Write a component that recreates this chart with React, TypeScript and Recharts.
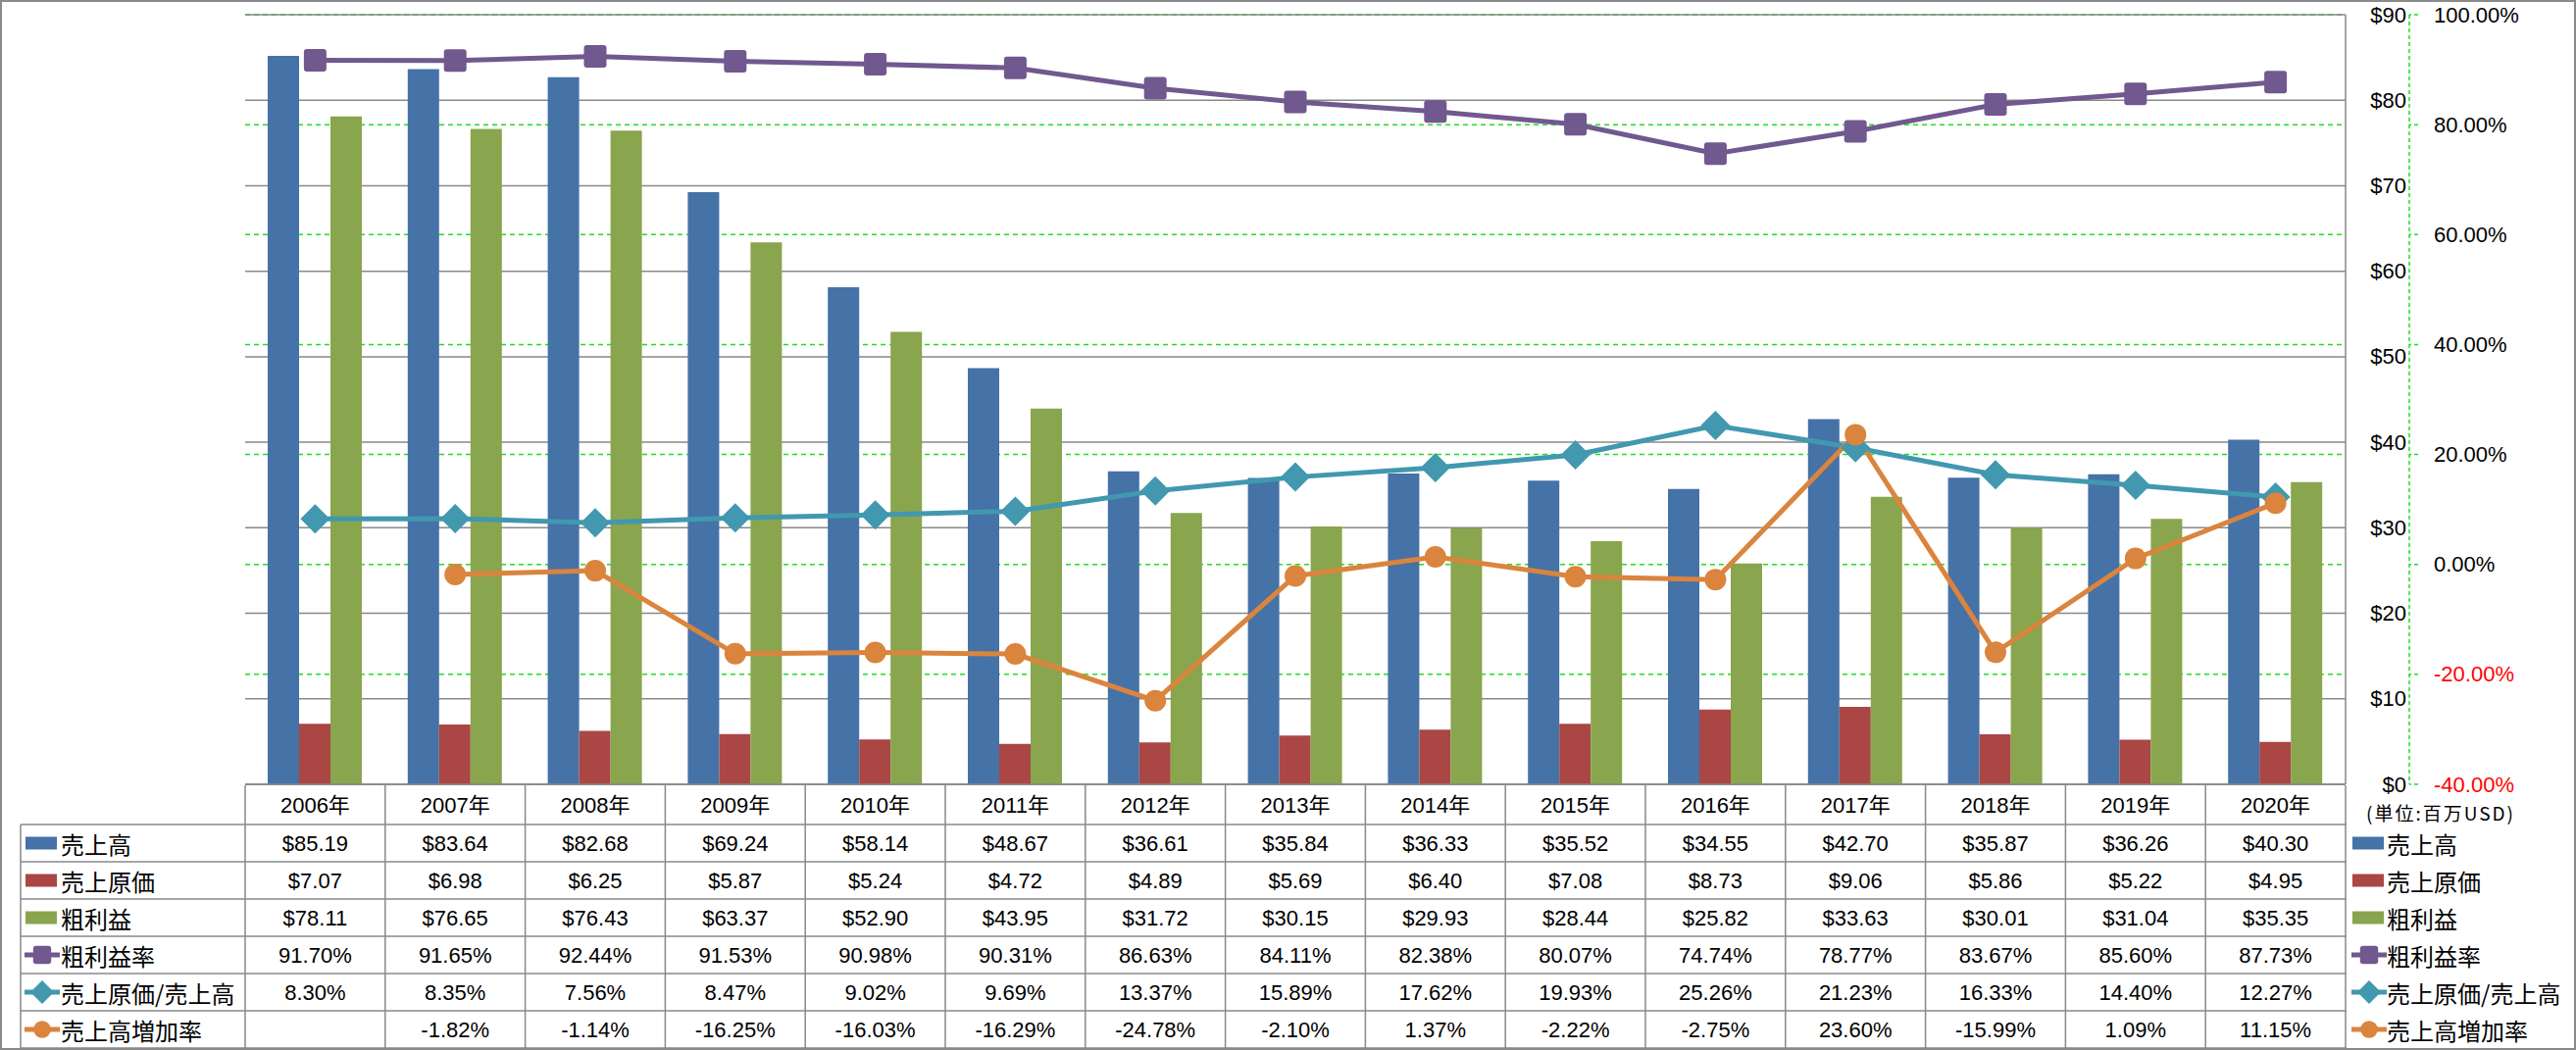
import React from 'react';
import { ComposedChart, Bar, Line, XAxis, YAxis, CartesianGrid } from 'recharts';

// ---------------- data ----------------
const years = ['2006年', '2007年', '2008年', '2009年', '2010年', '2011年', '2012年', '2013年', '2014年', '2015年', '2016年', '2017年', '2018年', '2019年', '2020年'];
const sales = [85.19, 83.64, 82.68, 69.24, 58.14, 48.67, 36.61, 35.84, 36.33, 35.52, 34.55, 42.7, 35.87, 36.26, 40.3];
const cogs = [7.07, 6.98, 6.25, 5.87, 5.24, 4.72, 4.89, 5.69, 6.4, 7.08, 8.73, 9.06, 5.86, 5.22, 4.95];
const grossProfit = [78.11, 76.65, 76.43, 63.37, 52.9, 43.95, 31.72, 30.15, 29.93, 28.44, 25.82, 33.63, 30.01, 31.04, 35.35];
const grossMargin = [91.7, 91.65, 92.44, 91.53, 90.98, 90.31, 86.63, 84.11, 82.38, 80.07, 74.74, 78.77, 83.67, 85.6, 87.73];
const cogsRatio = [8.3, 8.35, 7.56, 8.47, 9.02, 9.69, 13.37, 15.89, 17.62, 19.93, 25.26, 21.23, 16.33, 14.4, 12.27];
const salesGrowth: (number | null)[] = [null, -1.82, -1.14, -16.25, -16.03, -16.29, -24.78, -2.1, 1.37, -2.22, -2.75, 23.6, -15.99, 1.09, 11.15];

const usdTicks = [0, 10, 20, 30, 40, 50, 60, 70, 80, 90];
const pctTicks = [-40, -20, 0, 20, 40, 60, 80, 100];
const unitLabel = '(単位:百万USD)';

// ---------------- styles ----------------
const W = 2627;
const H = 1071;
const PLOT_LEFT = 250;
const PLOT_TOP = 15;
const USD_AXIS_W = 65;
const PCT_AXIS_W = 170;
const X_AXIS_H = 271;
const PLOT_W = W - PLOT_LEFT - USD_AXIS_W - PCT_AXIS_W;
const COL_W = PLOT_W / years.length;
const HEADER_H = 40;
const ROW_H = 38;
const TABLE_TOP = H - X_AXIS_H + 1;
const ROWS_TOP = TABLE_TOP + HEADER_H;
const TABLE_LEFT = 21;

const USD = 'a_usd';
const PCT = 'z_pct';

const BLUE = '#4572A7';
const RED = '#AA4643';
const GREEN = '#89A54E';
const PURPLE = '#71588F';
const TEAL = '#4198AF';
const ORANGE = '#DB843D';
const GRID = '#898989';
const DASH_GREEN = '#1ee01e';

const NUM_FONT = "'Liberation Sans', 'Noto Sans CJK JP', sans-serif";
const CJK_FONT = "'Noto Sans CJK JP', 'Noto Sans', sans-serif";

const fmtUsd = (v: number | null) => (v == null ? '' : `$${v.toFixed(2)}`);
const fmtPct = (v: number | null) => (v == null ? '' : `${v.toFixed(2)}%`);

type Kind = 'bar' | 'square' | 'diamond' | 'circle';
const rows: { label: string; values: (number | null)[]; fmt: (v: number | null) => string; kind: Kind; color: string }[] = [
  { label: '売上高', values: sales, fmt: fmtUsd, kind: 'bar', color: BLUE },
  { label: '売上原価', values: cogs, fmt: fmtUsd, kind: 'bar', color: RED },
  { label: '粗利益', values: grossProfit, fmt: fmtUsd, kind: 'bar', color: GREEN },
  { label: '粗利益率', values: grossMargin, fmt: fmtPct, kind: 'square', color: PURPLE },
  { label: '売上原価/売上高', values: cogsRatio, fmt: fmtPct, kind: 'diamond', color: TEAL },
  { label: '売上高増加率', values: salesGrowth, fmt: fmtPct, kind: 'circle', color: ORANGE },
];

const data = years.map((year, i) => ({
  year,
  sales: sales[i],
  cogs: cogs[i],
  grossProfit: grossProfit[i],
  grossMargin: grossMargin[i],
  cogsRatio: cogsRatio[i],
  salesGrowth: salesGrowth[i],
}));

// ---------------- markers ----------------
const Marker = ({ kind, cx, cy, color, s = 1 }: { kind: Kind; cx: number; cy: number; color: string; s?: number }) => {
  if (kind === 'square') {
    const h = 11.5 * s;
    return <rect x={cx - h} y={cy - h} width={2 * h} height={2 * h} rx={3} ry={3} fill={color} />;
  }
  if (kind === 'diamond') {
    const h = 15 * s;
    return <polygon points={`${cx},${cy - h} ${cx + h},${cy} ${cx},${cy + h} ${cx - h},${cy}`} fill={color} />;
  }
  if (kind === 'circle') {
    return <circle cx={cx} cy={cy} r={11 * s} fill={color} />;
  }
  return null;
};

const makeDot = (kind: Kind, color: string) => (p: any) => {
  if (p == null || p.cx == null || p.cy == null || p.value == null) return <g key={p?.key} />;
  return (
    <g key={p.key}>
      <Marker kind={kind} cx={p.cx} cy={p.cy} color={color} />
    </g>
  );
};

// ---------------- axis ticks ----------------
const UsdTick = (p: any) => (
  <text x={p.x + 62} y={p.y} textAnchor="end" dominantBaseline="central" fontFamily={NUM_FONT} fontSize={22} fill="#000">
    {`$${p.payload.value}`}
  </text>
);

const PctTick = (p: any) => {
  const v = p.payload.value as number;
  return (
    <text x={p.x} y={p.y} textAnchor="start" dominantBaseline="central" fontFamily={NUM_FONT} fontSize={22} fill={v < 0 ? '#ff0000' : '#000'}>
      {`${v.toFixed(2)}%`}
    </text>
  );
};

// Each x tick draws one column of the data table under the chart
const TableColumnTick = (p: any) => {
  const { x, y, index, payload } = p;
  const i = typeof index === 'number' ? index : payload.index;
  const top = y + 1;
  const left = x - COL_W / 2;
  const bottom = ROWS_TOP + rows.length * ROW_H;
  return (
    <g>
      <line x1={left} x2={left} y1={top} y2={bottom} stroke={GRID} strokeWidth={1.5} />
      {i === years.length - 1 && <line x1={left + COL_W} x2={left + COL_W} y1={top} y2={bottom} stroke={GRID} strokeWidth={1.5} />}
      <text x={x} y={top + HEADER_H / 2} textAnchor="middle" dominantBaseline="central" fontFamily={NUM_FONT} fontSize={22} fill="#000">
        {payload.value}
      </text>
      {rows.map((r, k) => (
        <text
          key={r.label}
          x={x}
          y={top + HEADER_H + ROW_H * k + ROW_H / 2}
          textAnchor="middle"
          dominantBaseline="central"
          fontFamily={NUM_FONT}
          fontSize={22}
          fill="#000"
        >
          {r.fmt(r.values[i])}
        </text>
      ))}
    </g>
  );
};

const LegendKey = ({ x, cy, kind, color }: { x: number; cy: number; kind: Kind; color: string }) => {
  if (kind === 'bar') return <rect x={x} y={cy - 6.5} width={32} height={13} fill={color} />;
  return (
    <g>
      <line x1={x - 1} x2={x + 35} y1={cy} y2={cy} stroke={color} strokeWidth={5} />
      <Marker kind={kind} cx={x + 17} cy={cy} color={color} s={0.8} />
    </g>
  );
};

const Overlay = () => {
  const tableRight = PLOT_LEFT + PLOT_W + 1;
  const bottom = ROWS_TOP + rows.length * ROW_H;
  return (
    <svg width={W} height={H} style={{ position: 'absolute', left: 0, top: 0, pointerEvents: 'none' }}>
      {rows.map((r, k) => (
        <line key={'h' + k} x1={TABLE_LEFT} x2={tableRight} y1={ROWS_TOP + k * ROW_H} y2={ROWS_TOP + k * ROW_H} stroke={GRID} strokeWidth={1.5} />
      ))}
      <line x1={TABLE_LEFT} x2={tableRight} y1={bottom} y2={bottom} stroke={GRID} strokeWidth={1.5} />
      <line x1={TABLE_LEFT} x2={TABLE_LEFT} y1={ROWS_TOP} y2={bottom} stroke={GRID} strokeWidth={1.5} />
      {rows.map((r, k) => {
        const cy = ROWS_TOP + k * ROW_H + ROW_H / 2;
        return (
          <g key={'l' + k}>
            <LegendKey x={26} cy={cy} kind={r.kind} color={r.color} />
            <text x={62} y={cy} dominantBaseline="central" fontFamily={CJK_FONT} fontSize={24} fill="#000">
              {r.label}
            </text>
            <LegendKey x={2399} cy={cy} kind={r.kind} color={r.color} />
            <text x={2434} y={cy} dominantBaseline="central" fontFamily={CJK_FONT} fontSize={24} fill="#000">
              {r.label}
            </text>
          </g>
        );
      })}
      <text
        x={2413}
        y={TABLE_TOP + 27}
        dominantBaseline="central"
        fontFamily={CJK_FONT}
        fontSize={19}
        textLength={150}
        lengthAdjust="spacing"
        fill="#000"
      >
        {unitLabel}
      </text>
    </svg>
  );
};

export default function App() {
  return (
    <div style={{ position: 'relative', width: W, height: H, background: '#fff', overflow: 'hidden' }}>
      <style>{'body{margin:0;background:#fff}'}</style>
      <ComposedChart
        width={W}
        height={H}
        data={data}
        margin={{ top: PLOT_TOP, right: 0, bottom: 0, left: PLOT_LEFT }}
        barGap={0}
      >
        <CartesianGrid yAxisId={PCT} vertical={false} stroke={DASH_GREEN} strokeWidth={1.5} strokeDasharray="5 4" />
        <CartesianGrid yAxisId={USD} vertical={false} stroke={GRID} strokeWidth={1.5} />
        <XAxis
          dataKey="year"
          height={X_AXIS_H}
          interval={0}
          tickLine={false}
          tickSize={0}
          tickMargin={0}
          axisLine={{ stroke: GRID, strokeWidth: 1.5 }}
          tick={TableColumnTick}
        />
        <YAxis
          yAxisId={PCT}
          orientation="right"
          width={PCT_AXIS_W}
          domain={[-40, 100]}
          ticks={pctTicks}
          interval={0}
          tickSize={9}
          tickMargin={16}
          axisLine={{ stroke: DASH_GREEN, strokeWidth: 1.5, strokeDasharray: '4 3' }}
          tickLine={{ stroke: DASH_GREEN, strokeWidth: 1.5, strokeDasharray: '4 3' }}
          tick={PctTick}
        />
        <YAxis
          yAxisId={USD}
          orientation="right"
          width={USD_AXIS_W}
          domain={[0, 90]}
          ticks={usdTicks}
          interval={0}
          tickLine={false}
          tickSize={0}
          tickMargin={0}
          axisLine={{ stroke: GRID, strokeWidth: 1.5 }}
          tick={UsdTick}
        />
        <Bar yAxisId={USD} dataKey="sales" fill={BLUE} barSize={32} isAnimationActive={false} />
        <Bar yAxisId={USD} dataKey="cogs" fill={RED} barSize={32} isAnimationActive={false} />
        <Bar yAxisId={USD} dataKey="grossProfit" fill={GREEN} barSize={32} isAnimationActive={false} />
        <Line yAxisId={PCT} dataKey="grossMargin" stroke={PURPLE} strokeWidth={5} dot={makeDot('square', PURPLE)} activeDot={false} isAnimationActive={false} />
        <Line yAxisId={PCT} dataKey="cogsRatio" stroke={TEAL} strokeWidth={5} dot={makeDot('diamond', TEAL)} activeDot={false} isAnimationActive={false} />
        <Line yAxisId={PCT} dataKey="salesGrowth" stroke={ORANGE} strokeWidth={5} dot={makeDot('circle', ORANGE)} activeDot={false} isAnimationActive={false} />
      </ComposedChart>
      <Overlay />
      <div style={{ position: 'absolute', left: 0, top: 0, width: W, height: H, boxSizing: 'border-box', border: '2px solid #8a8a8a', pointerEvents: 'none' }} />
    </div>
  );
}
